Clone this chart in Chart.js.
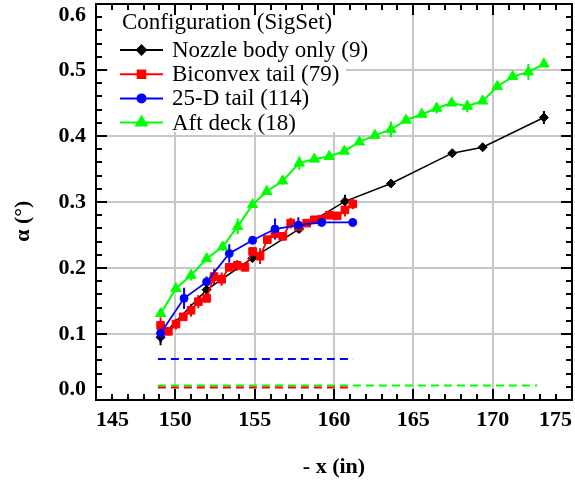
<!DOCTYPE html>
<html><head><meta charset="utf-8">
<script src="https://cdn.jsdelivr.net/npm/chart.js@4/dist/chart.umd.min.js"></script>
<style>html,body{margin:0;padding:0;background:#fff}#wrap{width:575px;height:483px}</style>
</head><body><div id="wrap"><canvas id="c" width="575" height="483"></canvas></div>
<script>
// ---- data ----
const nozzleX = [149.07,151.97,154.85,157.8,160.69,163.59,167.45,169.37,173.23];
const nozzleY = [0.095,0.167,0.215,0.259,0.301,0.328,0.374,0.383,0.428];
const nozzleErr = [0.012,0,0.006,0,0.010,0.005,0.004,0.004,0.010];

const biconvexX = [149.07,149.56,150.04,150.5,150.99,151.45,151.97,152.44,152.92,153.4,153.9,154.39,154.87,155.34,155.8,156.28,156.77,157.27,157.75,158.28,158.76,159.22,159.7,160.2,160.69,161.18];
const biconvexY = [0.113,0.104,0.115,0.126,0.136,0.149,0.154,0.187,0.183,0.201,0.204,0.201,0.225,0.218,0.243,0.252,0.248,0.268,0.263,0.268,0.273,0.274,0.280,0.279,0.288,0.297];
const biconvexErr = [0.012,0,0.008,0,0.010,0.010,0,0.012,0.010,0,0.008,0,0.006,0.012,0,0,0.006,0.008,0.010,0,0.006,0,0,0,0.010,0.008];

const tail25X = [149.07,150.55,151.97,153.4,154.87,156.28,157.75,159.22,161.18];
const tail25Y = [0.101,0.154,0.179,0.222,0.242,0.259,0.265,0.269,0.269];
const tail25Err = [0.014,0.016,0.008,0.014,0.006,0.016,0.012,0.004,0.006];

const aftX = [149.08,150.04,150.99,151.97,152.98,153.93,154.87,155.76,156.76,157.81,158.76,159.7,160.65,161.6,162.58,163.59,164.54,165.53,166.47,167.42,168.4,169.37,170.29,171.26,172.25,173.23];
const aftY = [0.131,0.169,0.189,0.214,0.232,0.263,0.296,0.316,0.332,0.359,0.365,0.369,0.377,0.391,0.401,0.410,0.424,0.433,0.442,0.450,0.445,0.453,0.475,0.490,0.497,0.509];
const aftErr = [0.006,0,0.008,0,0.006,0.012,0,0,0.006,0.010,0,0,0,0,0,0.012,0,0,0.008,0,0.009,0,0,0,0.012,0.004];

// noise-level dashed lines: [xStart, xEnd, level]
const noiseBiconvex = [148.9, 161.2, 0.019];
const noiseTail25   = [148.9, 161.2, 0.062];
const noiseAft      = [148.9, 172.8, 0.022];

const seriesNames = ['Nozzle body only (9)','Biconvex tail (79)','25-D tail (114)','Aft deck (18)'];
const legendTitle = 'Configuration (SigSet)';
const xTicks = [145,150,155,160,165,170,175];
const yTicks = [0.0,0.1,0.2,0.3,0.4,0.5,0.6];

// ---- build ----
const SERIF = '"Liberation Serif","Times New Roman",serif';
const colors = ['#000000','#ff0000','#0000ff','#00ff00'];
const styles = [
  {pointStyle:'rectRot', radius:4.5, width:1.5},
  {pointStyle:'rect', radius:5.4, width:1.8},
  {pointStyle:'circle', radius:4, width:1.8},
  {pointStyle:'triangle', radius:6, width:2}
];
const xs=[nozzleX,biconvexX,tail25X,aftX], ys=[nozzleY,biconvexY,tail25Y,aftY], es=[nozzleErr,biconvexErr,tail25Err,aftErr];
const pts=(X,Y)=>X.map((x,i)=>({x, y:Y[i]}));
function errPts(X,Y,E){const out=[];X.forEach((x,i)=>{if(E[i]>0){out.push({x,y:Y[i]-E[i]},{x,y:Y[i]+E[i]},{x,y:null});}});return out;}
const datasets=[];
[[noiseBiconvex,1],[noiseAft,3],[noiseTail25,2]].forEach(([n,ci])=>{
  datasets.push({label:'noise', data:[{x:n[0],y:n[2]},{x:n[1],y:n[2]}], borderColor:colors[ci], borderWidth:2, borderDash:[8,5], pointRadius:0, fill:false, order:10});
});
for(let k=0;k<4;k++){
  datasets.push({label:seriesNames[k]+' err', data:errPts(xs[k],ys[k],es[k]), borderColor:colors[k], borderWidth:2, pointRadius:0, spanGaps:false, fill:false, order:5});
}
for(let k=0;k<4;k++){
  datasets.push({label:seriesNames[k], data:pts(xs[k],ys[k]), borderColor:colors[k], backgroundColor:colors[k], borderWidth:styles[k].width,
    pointStyle:styles[k].pointStyle, pointRadius:styles[k].radius, pointBorderWidth:1, pointBackgroundColor:colors[k], pointBorderColor:colors[k], fill:false, tension:0, order:4-k});
}

const framePlugin={
  id:'frame',
  afterDatasetsDraw(chart){
    const {ctx, chartArea:a, scales:{x, y}}=chart;
    ctx.save();
    // legend box
    const lx=108, ly=8, lw=238, lh=124;
    ctx.fillStyle='#fff'; ctx.fillRect(lx,ly,lw,lh);
    ctx.fillStyle='#000'; ctx.textBaseline='middle'; ctx.textAlign='left';
    ctx.font='23px '+SERIF;
    ctx.fillText(legendTitle, 122, 23);
    for(let k=0;k<4;k++){
      const cy=50+k*24.2;
      ctx.strokeStyle=colors[k]; ctx.lineWidth=2;
      ctx.beginPath(); ctx.moveTo(120,cy); ctx.lineTo(163,cy); ctx.stroke();
      ctx.fillStyle=colors[k];
      Chart.helpers.drawPoint(ctx,{pointStyle:styles[k].pointStyle, radius:styles[k].radius, rotation:0, borderWidth:1},141.5,cy);
      ctx.fillStyle='#000';
      ctx.fillText(seriesNames[k],172,cy+1);
    }
    // ticks (inward, all four sides)
    ctx.strokeStyle='#000'; ctx.lineWidth=2;
    ctx.beginPath();
    for(let v=145; v<=175; v+=1){
      const px=Math.round(x.getPixelForValue(v));
      const L=(v%5===0)?11:6;
      ctx.moveTo(px,a.bottom); ctx.lineTo(px,a.bottom-L);
      ctx.moveTo(px,a.top); ctx.lineTo(px,a.top+L);
    }
    for(let i=0;i<=30;i++){
      const v=i*0.02; const py=Math.round(y.getPixelForValue(v));
      const L=(i%5===0)?11:6;
      ctx.moveTo(a.left,py); ctx.lineTo(a.left+L,py);
      ctx.moveTo(a.right,py); ctx.lineTo(a.right-L,py);
    }
    ctx.stroke();
    ctx.strokeRect(a.left,a.top,a.right-a.left,a.bottom-a.top);
    ctx.restore();
  }
};

function zeroPad(s){s.paddingTop=0;s.paddingBottom=0;s.paddingLeft=0;s.paddingRight=0;}

new Chart(document.getElementById('c'),{
  type:'line',
  data:{datasets},
  options:{
    responsive:false, animation:false, devicePixelRatio:1,
    layout:{autoPadding:false, padding:{top:4,right:3,left:0,bottom:0}},
    plugins:{legend:{display:false}, tooltip:{enabled:false}},
    scales:{
      x:{type:'linear', min:145, max:175, position:'bottom',
        afterBuildTicks(s){s.ticks=xTicks.map(v=>({value:v}));},
        afterFit(s){s.height=83; zeroPad(s);},
        ticks:{font:{family:SERIF,size:22,weight:'bold'}, color:'#000', padding:7, maxRotation:0, align:'inner', callback:v=>String(v)},
        grid:{color:'#c8c8c8', lineWidth:2, drawTicks:false},
        border:{display:false},
        title:{display:true, text:'- x (in)', font:{family:SERIF,size:22,weight:'bold'}, color:'#000', padding:{top:0,bottom:2}}
      },
      y:{type:'linear', min:0, max:0.6,
        afterBuildTicks(s){s.ticks=yTicks.map(v=>({value:v}));},
        afterFit(s){s.width=96; zeroPad(s);},
        ticks:{font:{family:SERIF,size:22,weight:'bold',lineHeight:1.0}, color:'#000', padding:10,
          callback:(v,i,t)=>{const s=Number(v).toFixed(1); if(i===0) return [s,'']; if(i===t.length-1) return ['',s]; return s;}},
        grid:{color:'#c8c8c8', lineWidth:2, drawTicks:false},
        border:{display:false},
        title:{display:true, text:'α (°)       ', font:{family:SERIF,size:22,weight:'bold'}, color:'#000', padding:{top:10,bottom:0}}
      }
    }
  },
  plugins:[framePlugin]
});
</script></body></html>
